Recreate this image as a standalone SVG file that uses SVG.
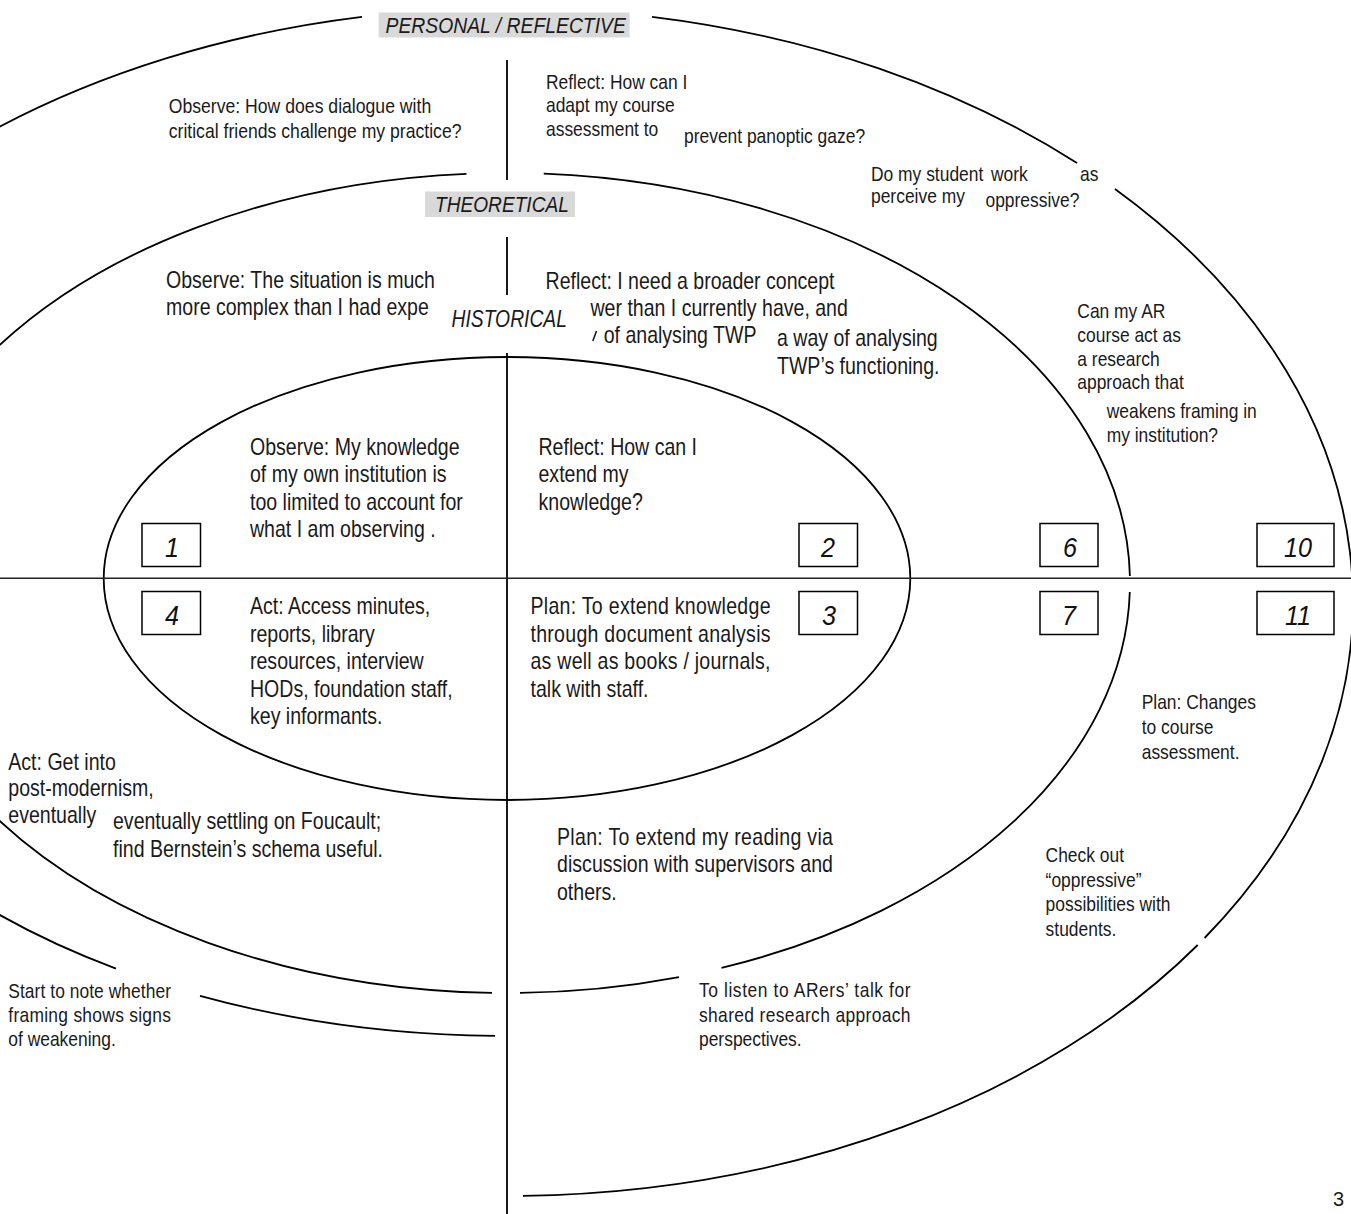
<svg xmlns="http://www.w3.org/2000/svg" width="1351" height="1214" viewBox="0 0 1351 1214">
<style>
.t{font-family:"Liberation Sans",Arial,sans-serif;fill:#1a1a1a}
.s{font-size:20.5px}
.l{font-size:23px}
.i{font-style:italic}
.n{font-family:"Liberation Sans",Arial,sans-serif;font-size:28px;font-style:italic;fill:#111;text-anchor:middle}
.ring path,.ring ellipse{fill:none;stroke:#000;stroke-width:1.8}
.axis{stroke:#000;stroke-width:1.8}
.hax{stroke:#222;stroke-width:1.4}
.box{fill:#fff;stroke:#000;stroke-width:1.5}
.tag{fill:#d9d9d9}
</style>
<rect width="1351" height="1214" fill="#fff"/>

<g id="rings" class="ring">
  <ellipse id="ring-historical" cx="507" cy="578.5" rx="403.3" ry="221.5"/>
  <g id="ring-theoretical">
    <path d="M -10 354.2 A 623 410 0 0 1 466.5 173.9"/>
    <path d="M 543.75 173.7 A 623 410 0 0 1 1129.9 576"/>
    <path d="M 1129.8 592 A 623 410 0 0 1 721.5 967.9"/>
    <path d="M 679 977.1 A 623 410 0 0 1 520 992.9"/>
    <path d="M 492 992.9 A 623 410 0 0 1 -10 811.8"/>
  </g>
  <g id="ring-personal">
    <path d="M -10 131.8 A 846 594 0 0 1 362 16.8"/>
    <path d="M 652 16.8 A 846 594 0 0 1 1077 163.1"/>
    <path d="M 1115 189 A 846 594 0 0 1 1204.6 938"/>
    <path d="M 1197.7 945 A 846 594 0 0 1 523 1195.9"/>
  </g>
  <g id="ring-lower-left">
    <path d="M -5 912.3 A 749 458 0 0 0 116 968.6"/>
    <path d="M 200 995.8 A 749 458 0 0 0 495 1035.9"/>
  </g>
</g>

<g id="axes">
  <line class="axis" x1="507" y1="60" x2="507" y2="180"/>
  <line class="axis" x1="507" y1="237" x2="507" y2="295"/>
  <line class="axis" x1="507" y1="353" x2="507" y2="1214"/>
  <line class="hax" x1="0" y1="578.3" x2="1351" y2="578.3"/>
</g>

<g id="label-personal">
  <rect class="tag" x="378.6" y="12.5" width="251" height="25"/>
  <text class="t i" style="font-size:22.5px" transform="translate(385.5 32.7) scale(0.86 1)">PERSONAL / REFLECTIVE</text>
</g>
<g id="label-theoretical">
  <rect class="tag" x="425" y="191.5" width="150" height="25.5"/>
  <text class="t i" style="font-size:22.5px" transform="translate(435 211.7) scale(0.85 1)">THEORETICAL</text>
</g>
<g id="label-historical">
  <text class="t i l" transform="translate(451.5 326.7) scale(0.84 1)">HISTORICAL</text>
</g>

<!-- personal / reflective ring -->
<g id="observe-personal" transform="translate(168.7 0) scale(0.86 1)">
  <text class="t s"><tspan x="0" y="113.5">Observe: How does dialogue with</tspan><tspan x="0" y="138">critical friends challenge my practice?</tspan></text>
</g>
<g id="reflect-personal" transform="translate(546 0) scale(0.85 1)">
  <text class="t s"><tspan x="0" y="89">Reflect: How can I</tspan><tspan x="0" y="112.5">adapt my course</tspan><tspan x="0" y="136">assessment to</tspan></text>
</g>
<g id="reflect-personal-2" transform="translate(684 0) scale(0.85 1)">
  <text class="t s" x="0" y="143">prevent panoptic gaze?</text>
</g>
<g id="question-students" transform="translate(871 0) scale(0.85 1)">
  <text class="t s"><tspan x="0" y="181.5">Do my student</tspan><tspan x="0" y="203.5">perceive my</tspan></text>
</g>
<g id="question-students-2" transform="translate(991 0) scale(0.85 1)">
  <text class="t s" x="0" y="181.5">work</text>
</g>
<g id="question-students-3" transform="translate(985.5 0) scale(0.85 1)">
  <text class="t s" x="0" y="207">oppressive?</text>
</g>
<g id="question-students-4" transform="translate(1080 0) scale(0.85 1)">
  <text class="t s" x="0" y="181.5">as</text>
</g>
<g id="question-ar" transform="translate(1077.3 0) scale(0.85 1)">
  <text class="t s"><tspan x="0" y="318.3">Can my AR</tspan><tspan x="0" y="342">course act as</tspan><tspan x="0" y="365.7">a research</tspan><tspan x="0" y="389.4">approach that</tspan></text>
</g>
<g id="question-ar-2" transform="translate(1106.7 0) scale(0.85 1)">
  <text class="t s"><tspan x="0" y="418.3">weakens framing in</tspan><tspan x="0" y="441.7">my institution?</tspan></text>
</g>
<g id="plan-personal" transform="translate(1141.7 0) scale(0.85 1)">
  <text class="t s"><tspan x="0" y="709.5">Plan: Changes</tspan><tspan x="0" y="734.5">to course</tspan><tspan x="0" y="759.5">assessment.</tspan></text>
</g>
<g id="check-personal" transform="translate(1045.6 0) scale(0.85 1)">
  <text class="t s"><tspan x="0" y="862.5">Check out</tspan><tspan x="0" y="887">“oppressive”</tspan><tspan x="0" y="911.5">possibilities with</tspan><tspan x="0" y="936">students.</tspan></text>
</g>
<g id="listen-personal" transform="translate(699 0) scale(0.85 1)">
  <text class="t s"><tspan x="0" y="997.5" textLength="248.9">To listen to ARers’ talk for</tspan><tspan x="0" y="1022" textLength="248.9">shared research approach</tspan><tspan x="0" y="1046.5">perspectives.</tspan></text>
</g>
<g id="start-note" transform="translate(8.3 0) scale(0.85 1)">
  <text class="t s"><tspan x="0" y="998" textLength="191.4">Start to note whether</tspan><tspan x="0" y="1022" textLength="191.4">framing shows signs</tspan><tspan x="0" y="1046">of weakening.</tspan></text>
</g>

<!-- theoretical ring -->
<g id="observe-theoretical" transform="translate(166 0) scale(0.85 1)">
  <text class="t l"><tspan x="0" y="288.3">Observe: The situation is much</tspan><tspan x="0" y="315">more complex than I had expe</tspan></text>
</g>
<g id="reflect-theoretical">
  <text class="t l" transform="translate(545.6 289) scale(0.85 1)">Reflect: I need a broader concept</text>
  <text class="t l" transform="translate(590.5 316) scale(0.85 1)">wer than I currently have, and</text>
  <text class="t l" transform="translate(603.7 343) scale(0.85 1)">of analysing TWP</text>
  <line x1="596.5" y1="331" x2="592.8" y2="341" stroke="#1a1a1a" stroke-width="1.6"/>
</g>
<g id="reflect-theoretical-2" transform="translate(777 0) scale(0.85 1)">
  <text class="t l"><tspan x="0" y="346.5">a way of analysing</tspan><tspan x="0" y="374.5">TWP’s functioning.</tspan></text>
</g>
<g id="act-theoretical" transform="translate(8.3 0) scale(0.85 1)">
  <text class="t l"><tspan x="0" y="770">Act: Get into</tspan><tspan x="0" y="796.5">post-modernism,</tspan><tspan x="0" y="823">eventually</tspan></text>
</g>
<g id="act-theoretical-2" transform="translate(113 0) scale(0.85 1)">
  <text class="t l"><tspan x="0" y="829.5">eventually settling on Foucault;</tspan><tspan x="0" y="857">find Bernstein’s schema useful.</tspan></text>
</g>
<g id="plan-theoretical" transform="translate(557 0) scale(0.85 1)">
  <text class="t l"><tspan x="0" y="845" textLength="324.7">Plan: To extend my reading via</tspan><tspan x="0" y="872.5" textLength="324.7">discussion with supervisors and</tspan><tspan x="0" y="900">others.</tspan></text>
</g>

<!-- historical ring -->
<g id="observe-historical" transform="translate(250 0) scale(0.85 1)">
  <text class="t l"><tspan x="0" y="455">Observe: My knowledge</tspan><tspan x="0" y="482.5">of my own institution is</tspan><tspan x="0" y="510">too limited to account for</tspan><tspan x="0" y="537.5">what I am observing .</tspan></text>
</g>
<g id="reflect-historical" transform="translate(538.5 0) scale(0.85 1)">
  <text class="t l"><tspan x="0" y="455">Reflect: How can I</tspan><tspan x="0" y="482.5">extend my</tspan><tspan x="0" y="510">knowledge?</tspan></text>
</g>
<g id="act-historical" transform="translate(250 0) scale(0.85 1)">
  <text class="t l"><tspan x="0" y="614.5">Act: Access minutes,</tspan><tspan x="0" y="642">reports, library</tspan><tspan x="0" y="669.5">resources, interview</tspan><tspan x="0" y="697">HODs, foundation staff,</tspan><tspan x="0" y="724.5">key informants.</tspan></text>
</g>
<g id="plan-historical" transform="translate(530.5 0) scale(0.85 1)">
  <text class="t l"><tspan x="0" y="614.5" textLength="282.4">Plan: To extend knowledge</tspan><tspan x="0" y="642" textLength="282.4">through document analysis</tspan><tspan x="0" y="669.5" textLength="282.4">as well as books / journals,</tspan><tspan x="0" y="697">talk with staff.</tspan></text>
</g>

<!-- numbered boxes -->
<g id="box-1"><rect class="box" x="142" y="523.5" width="58.5" height="43"/><text class="n" transform="translate(172 556.7) scale(0.9 1)">1</text></g>
<g id="box-2"><rect class="box" x="799" y="523.5" width="58.5" height="43"/><text class="n" transform="translate(828 556.7) scale(0.9 1)">2</text></g>
<g id="box-6"><rect class="box" x="1040" y="523.5" width="58" height="43"/><text class="n" transform="translate(1070 556.7) scale(0.9 1)">6</text></g>
<g id="box-10"><rect class="box" x="1257" y="523.5" width="77" height="43"/><text class="n" transform="translate(1298 556.7) scale(0.9 1)">10</text></g>
<g id="box-4"><rect class="box" x="142" y="591.5" width="58.5" height="43"/><text class="n" transform="translate(172 625) scale(0.9 1)">4</text></g>
<g id="box-3"><rect class="box" x="799" y="591.5" width="58.5" height="43"/><text class="n" transform="translate(829 625) scale(0.9 1)">3</text></g>
<g id="box-7"><rect class="box" x="1040" y="591.5" width="58" height="43"/><text class="n" transform="translate(1069 625) scale(0.9 1)">7</text></g>
<g id="box-11"><rect class="box" x="1257" y="591.5" width="77" height="43"/><text class="n" transform="translate(1298 625) scale(0.9 1)">11</text></g>

<g id="page-number"><text class="t" style="font-size:20px" x="1333" y="1206">3</text></g>
</svg>
